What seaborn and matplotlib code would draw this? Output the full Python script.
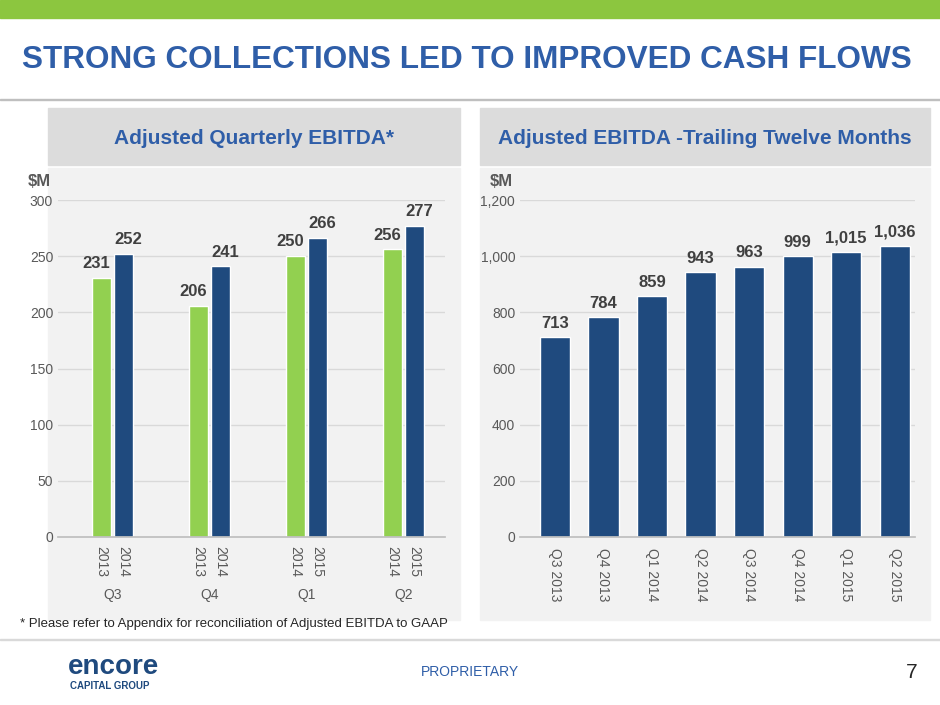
import matplotlib
matplotlib.use("Agg")
import matplotlib.pyplot as plt
import seaborn as sns
import pandas as pd
from matplotlib.patches import Rectangle

quarters = ["Q3", "Q4", "Q1", "Q2"]
prior_years = ["2013", "2013", "2014", "2014"]
current_years = ["2014", "2014", "2015", "2015"]
prior_vals = [231, 206, 250, 256]
current_vals = [252, 241, 266, 277]

ttm_labels = ["Q3 2013", "Q4 2013", "Q1 2014", "Q2 2014", "Q3 2014", "Q4 2014", "Q1 2015", "Q2 2015"]
ttm_vals = [713, 784, 859, 943, 963, 999, 1015, 1036]

GREEN = "#92D050"
BLUE = "#1F4A7E"
TXT = "#404040"

sns.set_theme(style="white")
plt.rcParams['font.family'] = ['Liberation Sans', 'DejaVu Sans']

W, H = 940, 705
fig = plt.figure(figsize=(9.4, 7.05), dpi=100)

def fx(x): return x / W
def fy(y): return 1 - y / H

def rect(x, y, w, h, c):
    fig.patches.append(Rectangle((x, y), w, h, transform=fig.transFigure, color=c, zorder=-10))

rect(0, fy(18), 1, 18 / H, "#8CC63F")
fig.text(fx(22), fy(60), "STRONG COLLECTIONS LED TO IMPROVED CASH FLOWS", fontsize=22.7, fontweight="bold",
         color="#2F5EA8", va="center")
rect(0, fy(100), 1, 1 / H, "#BFBFBF")

for x0, x1, title in [(48, 460, "Adjusted Quarterly EBITDA*"), (480, 930, "Adjusted EBITDA -Trailing Twelve Months")]:
    rect(fx(x0), fy(620), (x1 - x0) / W, (620 - 168) / H, "#F2F2F2")
    rect(fx(x0), fy(165), (x1 - x0) / W, 57 / H, "#DCDCDC")
    fig.text(fx((x0 + x1) / 2), fy(138), title, fontsize=15, fontweight="bold", color="#2F5EA8",
             ha="center", va="center")
fig.text(fx(28), fy(181), "$M", fontsize=12, fontweight="bold", color="#595959", va="center")
fig.text(fx(490), fy(181), "$M", fontsize=12, fontweight="bold", color="#595959", va="center")

# left chart
ax1 = fig.add_axes([fx(58), fy(537), (445 - 58) / W, (537 - 200) / H])
df = pd.DataFrame({
    "q": quarters * 2,
    "v": prior_vals + current_vals,
    "p": ["prior"] * 4 + ["current"] * 4,
})
sns.barplot(data=df, x="q", y="v", hue="p", palette=[GREEN, BLUE], width=0.45, gap=0.12, ax=ax1,
            legend=False, saturation=1)
ax1.set_facecolor("none")
ax1.set_xlim(-0.56, 3.43)
ax1.set_ylim(0, 300)
ax1.set_yticks(range(0, 301, 50))
ax1.yaxis.grid(True, color="#D9D9D9", lw=1)
ax1.set_axisbelow(True)
for s in ax1.spines.values(): s.set_visible(False)
ax1.spines["bottom"].set_visible(True); ax1.spines["bottom"].set_color("#BFBFBF")
ax1.tick_params(axis="y", labelsize=10, colors="#595959", length=0)
ax1.set_xticks([]); ax1.set_xlabel(""); ax1.set_ylabel("")
off = 0.1125
for i in range(4):
    ax1.text(i - off - 0.05, prior_vals[i] + 6, str(prior_vals[i]), ha="center", va="bottom",
             fontsize=12, fontweight="bold", color=TXT)
    ax1.text(i + off + 0.05, current_vals[i] + 6, str(current_vals[i]), ha="center", va="bottom",
             fontsize=12, fontweight="bold", color=TXT)
    ax1.text(i - off, -8, prior_years[i], rotation=-90, ha="center", va="top", fontsize=10, color="#595959")
    ax1.text(i + off, -8, current_years[i], rotation=-90, ha="center", va="top", fontsize=10, color="#595959")
    ax1.text(i, -45, quarters[i], ha="center", va="top", fontsize=10, color="#595959")

# right chart
ax2 = fig.add_axes([fx(520), fy(537), (915 - 520) / W, (537 - 200) / H])
sns.barplot(x=ttm_labels, y=ttm_vals, color=BLUE, width=0.62, ax=ax2, saturation=1)
ax2.set_facecolor("none")
ax2.set_xlim(-0.72, 7.42)
ax2.set_ylim(0, 1200)
ax2.set_yticks(range(0, 1201, 200))
ax2.set_yticklabels([f"{v:,}" for v in range(0, 1201, 200)])
ax2.yaxis.grid(True, color="#D9D9D9", lw=1)
ax2.set_axisbelow(True)
for s in ax2.spines.values(): s.set_visible(False)
ax2.spines["bottom"].set_visible(True); ax2.spines["bottom"].set_color("#BFBFBF")
ax2.tick_params(axis="y", labelsize=10, colors="#595959", length=0)
ax2.tick_params(axis="x", labelsize=10, colors="#595959", length=0, labelrotation=-90, pad=8)
for i, v in enumerate(ttm_vals):
    ax2.text(i, v + 22, f"{v:,}", ha="center", va="bottom", fontsize=12, fontweight="bold", color=TXT)

fig.text(fx(20), fy(624), "* Please refer to Appendix for reconciliation of Adjusted EBITDA to GAAP",
         fontsize=9.5, color="#262626", va="center")
rect(0, fy(640), 1, 1 / H, "#D9D9D9")
fig.text(fx(68), fy(667), "encore", fontsize=20, fontweight="bold", color="#1F4A7E", va="center")
fig.text(fx(70), fy(686), "CAPITAL GROUP", fontsize=7, fontweight="bold", color="#1F4A7E", va="center")
fig.text(fx(470), fy(672), "PROPRIETARY", fontsize=10, color="#2F5EA8", ha="center", va="center")
fig.text(fx(912), fy(672), "7", fontsize=15, color="#262626", ha="center", va="center")

fig.savefig("out.png", dpi=100)
